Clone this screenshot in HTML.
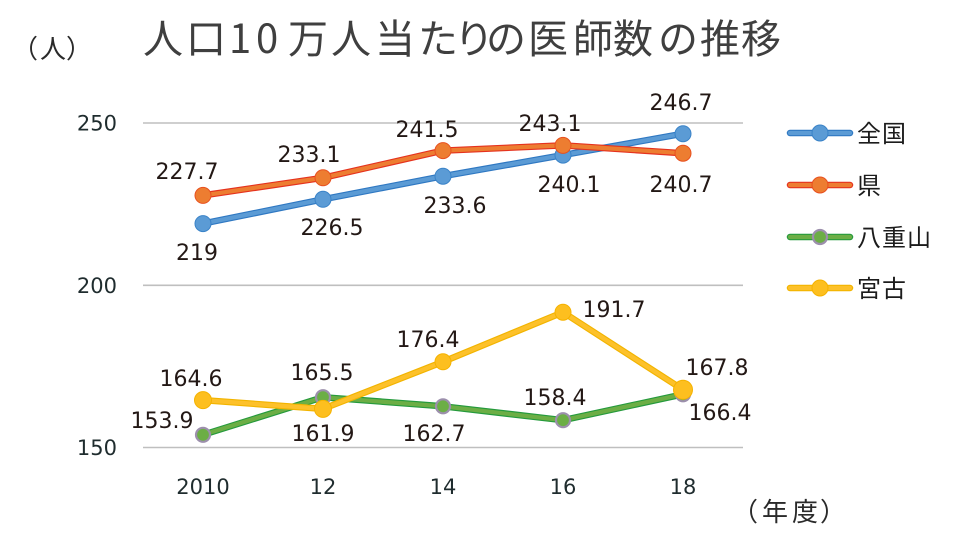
<!DOCTYPE html>
<html><head><meta charset="utf-8"><style>
html,body{margin:0;padding:0;background:#fff;}
svg{display:block;}
.lbl{font-family:"DejaVu Sans","Liberation Sans",sans-serif;font-size:22px;fill:#231815;}
.tick{font-family:"DejaVu Sans","Liberation Sans",sans-serif;font-size:21px;fill:#1f2c2e;}
.jp{font-family:"Liberation Sans","Noto Sans CJK JP",sans-serif;}
</style></head><body>
<svg width="960" height="540" viewBox="0 0 960 540" xmlns="http://www.w3.org/2000/svg">
<rect width="960" height="540" fill="#fff"/>
<!-- title -->
<text class="jp" y="53" font-size="40" fill="#3f3f3f" style="font-family:'Noto Sans CJK JP',sans-serif"><tspan x="143">人</tspan><tspan x="186">口</tspan><tspan x="229">1</tspan><tspan x="256">0</tspan><tspan x="288">万</tspan><tspan x="331">人</tspan><tspan x="375">当</tspan><tspan x="418">た</tspan><tspan x="454">り</tspan><tspan x="486">の</tspan><tspan x="528">医</tspan><tspan x="573">師</tspan><tspan x="613">数</tspan><tspan x="658">の</tspan><tspan x="700">推</tspan><tspan x="741">移</tspan></text>
<text y="58" font-size="26" fill="#2a2a2a" style="font-family:'Noto Sans CJK JP',sans-serif"><tspan x="12">（</tspan><tspan x="40">人</tspan><tspan x="66">）</tspan></text>
<text y="521" font-size="26" fill="#2a2a2a" style="font-family:'Noto Sans CJK JP',sans-serif"><tspan x="732">（</tspan><tspan x="762">年</tspan><tspan x="792">度</tspan><tspan x="820">）</tspan></text>

<!-- grid -->
<g stroke="#bfbfbf" stroke-width="1.6">
<line x1="143" y1="123" x2="743" y2="123"/>
<line x1="143" y1="285.3" x2="743" y2="285.3"/>
<line x1="143" y1="447.5" x2="743" y2="447.5"/>
</g>
<text class="tick" x="117" y="130.5" text-anchor="end">250</text>
<text class="tick" x="117" y="292.8" text-anchor="end">200</text>
<text class="tick" x="117" y="455" text-anchor="end">150</text>
<g class="tick" text-anchor="middle">
<text x="203" y="494">2010</text>
<text x="323" y="494">12</text>
<text x="443" y="494">14</text>
<text x="563" y="494">16</text>
<text x="683" y="494">18</text>
</g>

<!-- blue 全国 -->
<g fill="none" stroke-linejoin="round" stroke-linecap="round">
<polyline points="203,223.6 323,199.3 443,176.2 563,155.1 683,133.7" stroke="#2f78c2" stroke-width="6.5"/>
<polyline points="203,223.6 323,199.3 443,176.2 563,155.1 683,133.7" stroke="#5b9bd5" stroke-width="4.2"/>
</g>
<g fill="#5b9bd5" stroke="#3a83c8" stroke-width="1">
<circle cx="203" cy="223.6" r="8"/><circle cx="323" cy="199.3" r="8"/><circle cx="443" cy="176.2" r="8"/><circle cx="563" cy="155.1" r="8"/><circle cx="683" cy="133.7" r="8"/>
</g>
<!-- orange 県 -->
<g fill="none" stroke-linejoin="round" stroke-linecap="round">
<polyline points="203,195.4 323,177.8 443,150.6 563,145.4 683,153.2" stroke="#e5321e" stroke-width="6.5"/>
<polyline points="203,195.4 323,177.8 443,150.6 563,145.4 683,153.2" stroke="#ed7d31" stroke-width="4.2"/>
</g>
<g fill="#ed7d31" stroke="#e8501f" stroke-width="1">
<circle cx="203" cy="195.4" r="8"/><circle cx="323" cy="177.8" r="8"/><circle cx="443" cy="150.6" r="8"/><circle cx="563" cy="145.4" r="8"/><circle cx="683" cy="153.2" r="8"/>
</g>
<!-- green 八重山 -->
<g fill="none" stroke-linejoin="round" stroke-linecap="round">
<polyline points="203,434.8 323,397.2 443,406.3 563,420.2 683,394.3" stroke="#259a3c" stroke-width="6.5"/>
<polyline points="203,434.8 323,397.2 443,406.3 563,420.2 683,394.3" stroke="#6cae45" stroke-width="4.2"/>
</g>
<g fill="#6cae45" stroke="#9c8fac" stroke-width="2.2">
<circle cx="203" cy="434.8" r="7"/><circle cx="323" cy="397.2" r="7"/><circle cx="443" cy="406.3" r="7"/><circle cx="563" cy="420.2" r="7"/><circle cx="683" cy="394.3" r="7"/>
</g>
<!-- yellow 宮古 -->
<g fill="none" stroke-linejoin="round" stroke-linecap="round">
<polyline points="203,400.1 323,408.9 443,361.8 563,312.2 683,389.7" stroke="#f2b400" stroke-width="6.5"/>
<polyline points="203,400.1 323,408.9 443,361.8 563,312.2 683,389.7" stroke="#fdc12a" stroke-width="4.2"/>
</g>
<g fill="#fdbf1f" stroke="#f5b200" stroke-width="1">
<circle cx="203" cy="400.1" r="8.5"/><circle cx="323" cy="408.9" r="8.5"/><circle cx="443" cy="361.8" r="8"/><circle cx="563" cy="312.2" r="8"/><circle cx="683" cy="389.7" r="9.5"/>
</g>

<!-- data labels -->
<g class="lbl" text-anchor="middle">
<text x="187" y="179">227.7</text>
<text x="309" y="162">233.1</text>
<text x="427" y="137">241.5</text>
<text x="550" y="131">243.1</text>
<text x="681" y="110">246.7</text>
<text x="197" y="260">219</text>
<text x="332" y="235">226.5</text>
<text x="455" y="213">233.6</text>
<text x="569" y="192">240.1</text>
<text x="681" y="192">240.7</text>
<text x="191" y="386">164.6</text>
<text x="162" y="428">153.9</text>
<text x="322" y="380">165.5</text>
<text x="323" y="441">161.9</text>
<text x="434" y="441">162.7</text>
<text x="428" y="347">176.4</text>
<text x="614" y="317">191.7</text>
<text x="555" y="405">158.4</text>
<text x="717" y="375">167.8</text>
<text x="720" y="420">166.4</text>
</g>

<!-- legend -->
<g stroke-linecap="round">
<line x1="790" y1="133" x2="850" y2="133" stroke="#2f78c2" stroke-width="6.5"/>
<line x1="790" y1="133" x2="850" y2="133" stroke="#5b9bd5" stroke-width="4.2"/>
<circle cx="820" cy="133" r="8" fill="#5b9bd5" stroke="#3a83c8"/>
<line x1="790" y1="185" x2="850" y2="185" stroke="#e5321e" stroke-width="6.5"/>
<line x1="790" y1="185" x2="850" y2="185" stroke="#ed7d31" stroke-width="4.2"/>
<circle cx="820" cy="185" r="8" fill="#ed7d31" stroke="#e8501f"/>
<line x1="790" y1="237" x2="850" y2="237" stroke="#259a3c" stroke-width="6.5"/>
<line x1="790" y1="237" x2="850" y2="237" stroke="#6cae45" stroke-width="4.2"/>
<circle cx="820" cy="237" r="7" fill="#6cae45" stroke="#9c8fac" stroke-width="2.2"/>
<line x1="790" y1="288" x2="850" y2="288" stroke="#f2b400" stroke-width="6.5"/>
<line x1="790" y1="288" x2="850" y2="288" stroke="#fdc12a" stroke-width="4.2"/>
<circle cx="820" cy="288" r="8" fill="#fdbf1f" stroke="#f5b200"/>
</g>
<g font-size="24" fill="#1c1c1c" style="font-family:'Noto Sans CJK JP',sans-serif;letter-spacing:1px">
<text x="857" y="142">全国</text>
<text x="857" y="194">県</text>
<text x="857" y="246">八重山</text>
<text x="857" y="297">宮古</text>
</g>
</svg>
</body></html>
